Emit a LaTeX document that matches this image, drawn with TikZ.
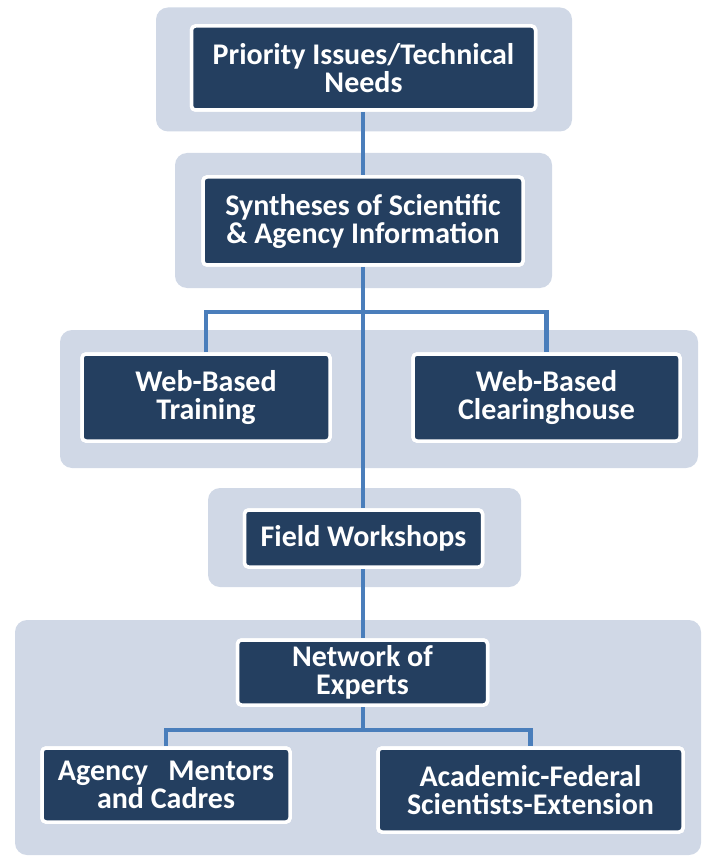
\documentclass[tikz,border=0pt]{standalone}
\usepackage{fontspec}
\setmainfont{Carlito}
\definecolor{bgblue}{HTML}{D0D8E6}
\definecolor{navy}{HTML}{243F60}
\definecolor{linkblue}{HTML}{4A7EBB}
\tikzset{
  grp/.style={fill=bgblue, draw=none, rounded corners=12pt, inner sep=0pt},
  dbox/.style={fill=navy, draw=white, line width=3.5pt, rounded corners=4pt, text=white,
    align=center, inner sep=0pt, font=\bfseries\fontsize{30}{28}\selectfont},
  link/.style={draw=linkblue, line width=4.8pt}
}
\begin{document}
\begin{tikzpicture}[x=1pt,y=-1pt]
\useasboundingbox (0,0) rectangle (702,858);
% background groups
\node[grp, minimum width=416pt, minimum height=124pt] (g1) at (364,69.5) {};
\node[grp, minimum width=377pt, minimum height=135pt] (g2) at (363.5,220.5) {};
\node[grp, minimum width=638pt, minimum height=138pt] (g3) at (379,399) {};
\node[grp, minimum width=313pt, minimum height=99pt] (g4) at (364.5,537.5) {};
\node[grp, minimum width=686pt, minimum height=235pt] (g5) at (358,737.5) {};
% boxes (placed first for anchors, redrawn on top of connectors)
\path
  node[dbox, minimum width=344pt, minimum height=84pt] (top) at (363.5,68) {Priority Issues/Technical\\Needs}
  node[dbox, minimum width=320pt, minimum height=88pt] (syn) at (363,221) {Syntheses of Scientific\\\& Agency Information}
  node[dbox, minimum width=248pt, minimum height=87pt] (wbt) at (206,397.5) {Web-Based\\Training}
  node[dbox, minimum width=267pt, minimum height=87pt] (wbc) at (546.5,397.5) {Web-Based\\Clearinghouse}
  node[dbox, minimum width=238pt, minimum height=57pt] (fw) at (363.5,538.5) {Field Workshops}
  node[dbox, minimum width=250pt, minimum height=65pt] (ne) at (362.5,672.5) {Network of\\Experts}
  node[dbox, minimum width=248pt, minimum height=74pt] (ag) at (166,785) {Agency~~~Mentors\\and Cadres}
  node[dbox, minimum width=305pt, minimum height=84pt] (ac) at (530.5,790) {Academic-Federal\\Scientists-Extension};
\coordinate (j1) at (363,312);
\coordinate (j2) at (363,730);
% connectors
\draw[link] (top.south -| j1) -- (syn.north -| j1);
\draw[link] (syn.south -| j1) -- (fw.north -| j1);
\draw[link] (wbt.north) |- (j1) -| (wbc.north);
\draw[link] (fw.south -| j1) -- (ne.north -| j1);
\draw[link] (ne.south -| j2) -- (j2);
\draw[link] (ag.north) |- (j2) -| (ac.north);
% redraw boxes on top of connectors
\path
  node[dbox, minimum width=344pt, minimum height=84pt] at (top) {Priority Issues/Technical\\Needs}
  node[dbox, minimum width=320pt, minimum height=88pt] at (syn) {Syntheses of Scientific\\\& Agency Information}
  node[dbox, minimum width=248pt, minimum height=87pt] at (wbt) {Web-Based\\Training}
  node[dbox, minimum width=267pt, minimum height=87pt] at (wbc) {Web-Based\\Clearinghouse}
  node[dbox, minimum width=238pt, minimum height=57pt] at (fw) {Field Workshops}
  node[dbox, minimum width=250pt, minimum height=65pt] at (ne) {Network of\\Experts}
  node[dbox, minimum width=248pt, minimum height=74pt] at (ag) {Agency~~~Mentors\\and Cadres}
  node[dbox, minimum width=305pt, minimum height=84pt] at (ac) {Academic-Federal\\Scientists-Extension};
\end{tikzpicture}
\end{document}
